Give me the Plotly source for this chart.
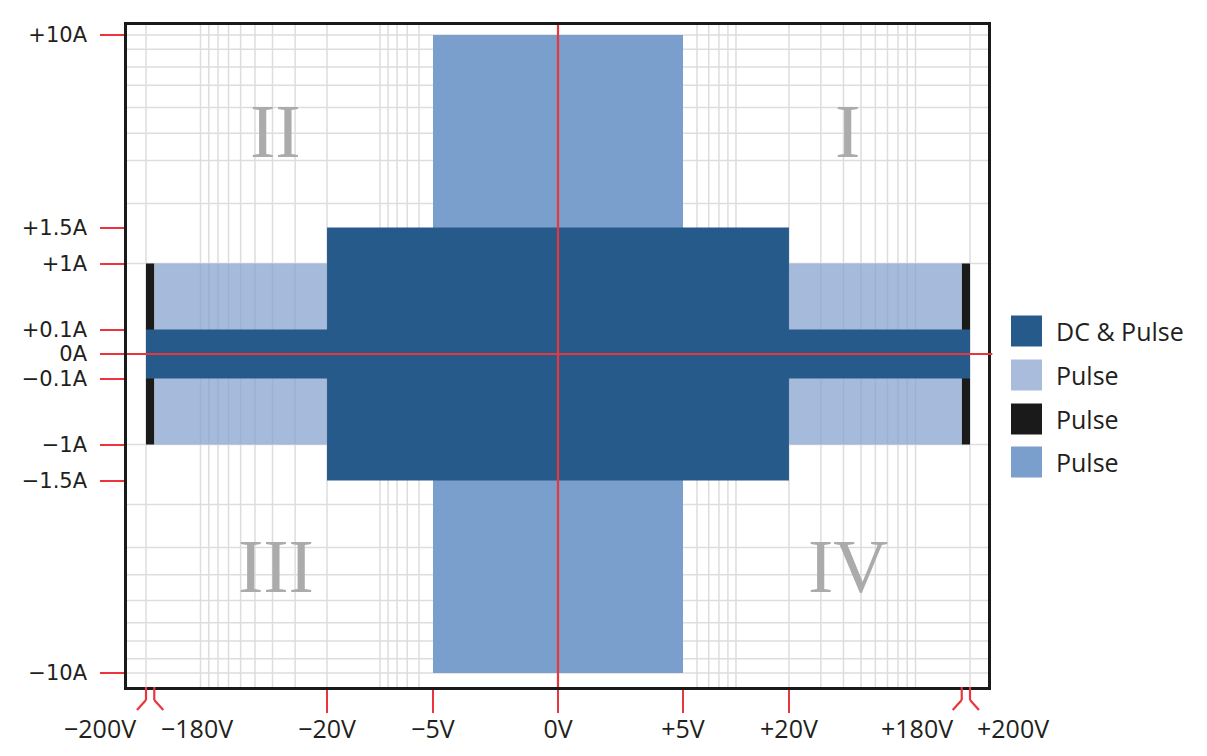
import numpy as np
import plotly.graph_objects as go

# ---------------- data ----------------
X_TICK_V = [-20, -5, 0, 5, 20]
X_TICK_TEXT = ["−20V", "−5V", "0V", "+5V", "+20V"]
X_BRACKET_V = [-200, -180, 180, 200]
X_BRACKET_TEXT = ["−200V", "−180V", "+180V", "+200V"]
Y_TICK_A = [10, 1.5, 1, 0.1, 0, -0.1, -1, -1.5, -10]
Y_TICK_TEXT = ["+10A", "+1.5A", "+1A", "+0.1A", "0A", "−0.1A", "−1A", "−1.5A", "−10A"]

# operating regions: voltage spans and current spans
PULSE_MED_V = [[-5, 5]]
PULSE_MED_A = [-10, 10]
PULSE_LIGHT_V = [[-180, -20], [20, 180]]
PULSE_LIGHT_A = [-1, 1]
PULSE_BLACK_V = [[-200, -180], [180, 200]]
PULSE_BLACK_A = [-1, 1]
LOWI_V = [[-200, 200]]
LOWI_A = [-0.1, 0.1]
DC_V = [[-20, 20]]
DC_A = [-1.5, 1.5]

GRID_V = [6, 7, 8, 9, 10, 20, 30, 40, 50, 60, 70, 80, 90, 100, 200]
GRID_A = [10, 8.7, 7.3, 6.1, 4.9, 3.8, 2.9, 1.9, 1.0]

QUAD_TEXT = ["II", "I", "III", "IV"]
LEGEND_NAMES = ["DC & Pulse", "Pulse", "Pulse", "Pulse"]

# ---------------- colours ----------------
C_DC = "#265a8b"
C_LIGHT = "rgba(132,159,205,0.72)"
C_LIGHT_SOLID = "#a9bcdc"
C_BLACK = "#1a1a1a"
C_MED = "#7a9fcc"
C_RED = "#e8363c"
C_GRID = "#dddddd"
C_TEXT = "#231f20"


# ---------------- custom schematic scales ----------------
def xs(v):
    a = abs(v)
    if a <= 5:
        u = 25.0 * a
    elif a <= 20:
        u = 125 + 176 * np.log10(a / 5)
    else:
        u = 231 + 181 * np.log10(a / 20)
    return float(np.sign(v) * u)


def ys(i):
    a = abs(i)
    if a <= 0.1:
        u = 245.0 * a
    elif a <= 1:
        u = 24.5 + 66 * np.log10(a / 0.1)
    elif a <= 1.5:
        u = 90.5 + 36 / np.log10(1.5) * np.log10(a)
    else:
        u = 126.5 + 192.5 / np.log10(10 / 1.5) * np.log10(a / 1.5)
    return float(np.sign(i) * u)


def rects(vspans, aspan):
    xx, yy = [], []
    for v0, v1 in vspans:
        a0, a1 = aspan
        xx += [xs(v0), xs(v1), xs(v1), xs(v0), xs(v0), None]
        yy += [ys(a0), ys(a0), ys(a1), ys(a1), ys(a0), None]
    return xx, yy


fig = go.Figure()
for vs, asp, col in [
    (PULSE_MED_V, PULSE_MED_A, C_MED),
    (PULSE_BLACK_V, PULSE_BLACK_A, C_BLACK),
    (PULSE_LIGHT_V, PULSE_LIGHT_A, C_LIGHT),
    (LOWI_V, LOWI_A, C_DC),
    (DC_V, DC_A, C_DC),
]:
    xx, yy = rects(vs, asp)
    fig.add_trace(go.Scatter(x=xx, y=yy, mode="none", fill="toself",
                             fillcolor=col, showlegend=False, hoverinfo="skip"))

shapes = []
# grid
for v in GRID_V:
    for s in (-1, 1):
        shapes.append(dict(type="line", xref="x", yref="paper", x0=xs(s * v), x1=xs(s * v),
                           y0=0, y1=1, line=dict(color=C_GRID, width=1.5), layer="below"))
for a in GRID_A:
    for s in (-1, 1):
        shapes.append(dict(type="line", xref="paper", yref="y", x0=0, x1=1,
                           y0=ys(s * a), y1=ys(s * a), line=dict(color=C_GRID, width=1.5), layer="below"))

# red zero axes
shapes.append(dict(type="line", xref="x", yref="paper", x0=0, x1=0, y0=0, y1=1,
                   line=dict(color=C_RED, width=2.2)))
shapes.append(dict(type="line", xref="paper", yref="y", x0=0, x1=1.005, y0=0, y1=0,
                   line=dict(color=C_RED, width=2.2)))

# bracket ticks for +/-180 and +/-200
PH = 662.0
for v in X_BRACKET_V:
    x0 = xs(v)
    outward = 1 if abs(v) == 200 else -1
    dx = np.sign(v) * outward * 9
    shapes.append(dict(type="line", xref="x", yref="paper", x0=x0, x1=x0,
                       y0=0, y1=-13 / PH, line=dict(color=C_RED, width=2.2)))
    shapes.append(dict(type="line", xref="x", yref="paper", x0=x0, x1=x0 + dx,
                       y0=-13 / PH, y1=-23 / PH, line=dict(color=C_RED, width=2.2)))

annotations = []
shifts = {-200: -46, -180: 43, 180: -45, 200: 43}
for v, t in zip(X_BRACKET_V, X_BRACKET_TEXT):
    annotations.append(dict(x=xs(v), xref="x", y=0, yref="paper", text=t, showarrow=False,
                            xanchor="center", yanchor="middle", xshift=shifts[v], yshift=-41,
                            font=dict(family="Open Sans", size=25, color=C_TEXT)))

# quadrant numerals
for t, px, py in zip(QUAD_TEXT, [0.173, 0.837, 0.173, 0.837], [0.84, 0.84, 0.183, 0.183]):
    annotations.append(dict(x=px, y=py, xref="paper", yref="paper", text=t, showarrow=False,
                            xanchor="center", yanchor="middle",
                            font=dict(family="Liberation Serif", size=76, color="#ababab")))

# legend (drawn manually for large square swatches)
leg_cols = [C_DC, C_LIGHT_SOLID, C_BLACK, C_MED]
leg_y = [331, 375, 419, 462]
for name, col, yp in zip(LEGEND_NAMES, leg_cols, leg_y):
    yc = (687 - yp) / PH
    shapes.append(dict(type="rect", xref="paper", yref="paper",
                       x0=(1011 - 127) / 861, x1=(1042 - 127) / 861,
                       y0=yc - 15.5 / PH, y1=yc + 15.5 / PH,
                       fillcolor=col, line=dict(width=0)))
    annotations.append(dict(x=(1054 - 127) / 861, y=yc, xref="paper", yref="paper", text=name,
                            showarrow=False, xanchor="left", yanchor="middle",
                            font=dict(family="Open Sans", size=25, color=C_TEXT)))

fig.update_layout(
    width=1207, height=756,
    margin=dict(l=127, r=219, t=25, b=69),
    paper_bgcolor="white", plot_bgcolor="white",
    shapes=shapes, annotations=annotations, showlegend=False,
    xaxis=dict(range=[-431, 430], showgrid=False, zeroline=False,
               tickmode="array", tickvals=[xs(v) for v in X_TICK_V], ticktext=X_TICK_TEXT,
               ticks="outside", ticklen=23, tickwidth=2.2, tickcolor=C_RED,
               showline=True, mirror=True, linecolor="#1a1a1a", linewidth=2.5,
               ticklabelstandoff=-5,
               tickfont=dict(family="Open Sans", size=25, color=C_TEXT), fixedrange=True),
    yaxis=dict(range=[-333, 329], showgrid=False, zeroline=False,
               tickmode="array", tickvals=[ys(a) for a in Y_TICK_A], ticktext=Y_TICK_TEXT,
               ticks="outside", ticklen=24, tickwidth=2.2, tickcolor=C_RED,
               showline=True, mirror=True, linecolor="#1a1a1a", linewidth=2.5,
               ticklabelstandoff=9,
               tickfont=dict(family="DejaVu Sans", size=21, color=C_TEXT), fixedrange=True),
)

fig.write_html("out.html", config={"displayModeBar": False},
               post_script="document.body.style.margin='0';document.body.style.overflow='hidden';")
